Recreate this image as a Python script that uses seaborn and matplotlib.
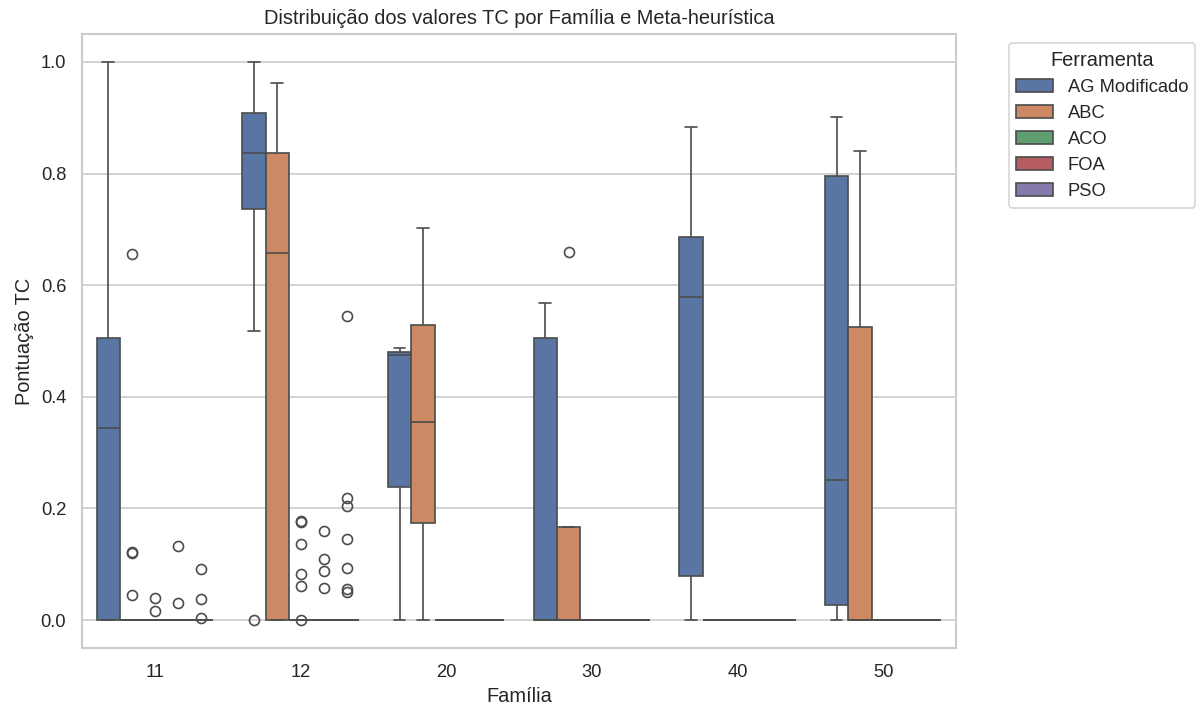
import matplotlib
matplotlib.use("Agg")
import matplotlib.pyplot as plt
import seaborn as sns
import pandas as pd

familias = ["11", "12", "20", "30", "40", "50"]
ferramentas = ["AG Modificado", "ABC", "ACO", "FOA", "PSO"]

# Família 11
ag_11 = [0.0, 0.0, 0.0, 0.15, 0.344, 0.45, 0.506, 0.75, 1.0]
abc_11 = [0, 0, 0, 0, 0, 0, 0, 0, 0, 0, 0, 0, 0, 0.045, 0.121, 0.122, 0.656]
aco_11 = [0, 0, 0, 0, 0, 0, 0, 0, 0, 0.016, 0.040]
foa_11 = [0, 0, 0, 0, 0, 0, 0, 0, 0, 0.031, 0.132]
pso_11 = [0, 0, 0, 0, 0, 0, 0, 0, 0, 0, 0, 0.003, 0.037, 0.092]

# Família 12
ag_12 = [0.0, 0.518, 0.737, 0.80, 0.837, 0.87, 0.908, 0.95, 1.0]
abc_12 = [0.0, 0.0, 0.0, 0.40, 0.657, 0.75, 0.837, 0.90, 0.963]
aco_12 = [0, 0, 0, 0, 0, 0, 0, 0, 0, 0, 0, 0, 0, 0, 0, 0, 0, 0, 0, 0,
          0.001, 0.061, 0.082, 0.137, 0.175, 0.178]
foa_12 = [0, 0, 0, 0, 0, 0, 0, 0, 0, 0, 0, 0, 0, 0,
          0.058, 0.088, 0.109, 0.159]
pso_12 = [0, 0, 0, 0, 0, 0, 0, 0, 0, 0, 0, 0, 0, 0, 0, 0, 0, 0, 0, 0, 0, 0, 0,
          0.050, 0.055, 0.094, 0.146, 0.205, 0.218, 0.544]

# Família 20
ag_20 = [0.0, 0.10, 0.239, 0.35, 0.475, 0.478, 0.481, 0.485, 0.488]
abc_20 = [0.0, 0.10, 0.174, 0.25, 0.354, 0.45, 0.528, 0.60, 0.702]
aco_20 = [0, 0, 0, 0, 0, 0, 0, 0, 0]
foa_20 = [0, 0, 0, 0, 0, 0, 0, 0, 0]
pso_20 = [0, 0, 0, 0, 0, 0, 0, 0, 0]

# Família 30
ag_30 = [0.0, 0.0, 0.0, 0.0, 0.0, 0.30, 0.506, 0.54, 0.568]
abc_30 = [0.0, 0.0, 0.0, 0.0, 0.0, 0.08, 0.166, 0.166, 0.659]
aco_30 = [0, 0, 0, 0, 0, 0, 0, 0, 0]
foa_30 = [0, 0, 0, 0, 0, 0, 0, 0, 0]
pso_30 = [0, 0, 0, 0, 0, 0, 0, 0, 0]

# Família 40
ag_40 = [0.0, 0.04, 0.079, 0.30, 0.579, 0.63, 0.686, 0.80, 0.884]
abc_40 = [0, 0, 0, 0, 0, 0, 0, 0, 0]
aco_40 = [0, 0, 0, 0, 0, 0, 0, 0, 0]
foa_40 = [0, 0, 0, 0, 0, 0, 0, 0, 0]
pso_40 = [0, 0, 0, 0, 0, 0, 0, 0, 0]

# Família 50
ag_50 = [0.0, 0.01, 0.027, 0.15, 0.251, 0.50, 0.795, 0.85, 0.901]
abc_50 = [0.0, 0.0, 0.0, 0.0, 0.0, 0.30, 0.525, 0.70, 0.841]
aco_50 = [0, 0, 0, 0, 0, 0, 0, 0, 0]
foa_50 = [0, 0, 0, 0, 0, 0, 0, 0, 0]
pso_50 = [0, 0, 0, 0, 0, 0, 0, 0, 0]

grupos = {
    "11": [ag_11, abc_11, aco_11, foa_11, pso_11],
    "12": [ag_12, abc_12, aco_12, foa_12, pso_12],
    "20": [ag_20, abc_20, aco_20, foa_20, pso_20],
    "30": [ag_30, abc_30, aco_30, foa_30, pso_30],
    "40": [ag_40, abc_40, aco_40, foa_40, pso_40],
    "50": [ag_50, abc_50, aco_50, foa_50, pso_50],
}

rows = []
for fam in familias:
    for tool, vals in zip(ferramentas, grupos[fam]):
        for v in vals:
            rows.append({"Família": fam, "Ferramenta": tool, "Pontuação TC": float(v)})
df = pd.DataFrame(rows)

sns.set_theme(style="whitegrid")
plt.rcParams["font.family"] = ["Liberation Sans", "DejaVu Sans"]

W, H = 1202, 706
DPI = 120
fig = plt.figure(figsize=(W / DPI, H / DPI), dpi=DPI)
ax = fig.add_axes([82 / W, 1 - 648 / H, (956 - 82) / W, (648 - 34) / H])

sns.boxplot(data=df, x="Família", y="Pontuação TC", hue="Ferramenta",
            order=familias, hue_order=ferramentas, ax=ax)

ax.set_title("Distribuição dos valores TC por Família e Meta-heurística")
ax.set_xlabel("Família")
ax.set_ylabel("Pontuação TC")
sns.move_legend(ax, "upper left", bbox_to_anchor=(1.05, 1), title="Ferramenta")

fig.savefig("out.png", dpi=DPI)
